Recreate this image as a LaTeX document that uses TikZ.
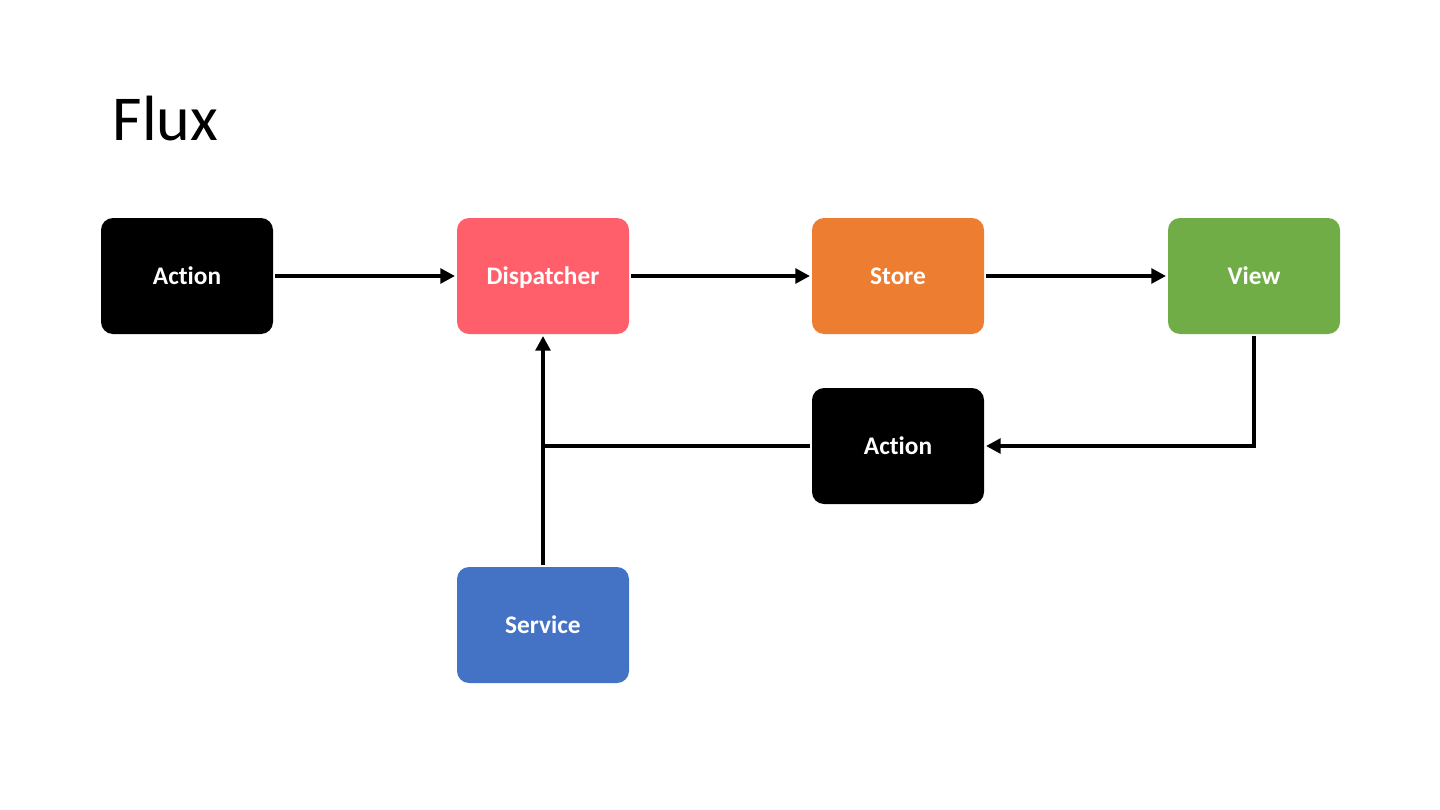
\documentclass[tikz,border=0pt]{standalone}
\usepackage{fontspec}
\setmainfont[Ligatures=NoCommon]{Carlito}
\usetikzlibrary{arrows.meta}

\definecolor{DispatcherRed}{HTML}{FF5F6B}
\definecolor{StoreOrange}{HTML}{ED7D31}
\definecolor{ViewGreen}{HTML}{70AD47}
\definecolor{ServiceBlue}{HTML}{4472C4}

\begin{document}
\begin{tikzpicture}[x=0.75pt,y=-0.75pt,
    Block/.style={rectangle,rounded corners=9pt,minimum width=129pt,
      minimum height=87pt,inner sep=0pt,outer sep=1.5pt,text=white,
      text height=13pt,text depth=1pt,
      font=\fontsize{19}{23}\selectfont\bfseries},
    Flow/.style={line width=3pt,-{Triangle[length=11pt,width=11pt]}},
    Wire/.style={line width=3pt}]

    \useasboundingbox (0,0) rectangle (1440,810);

    \node[anchor=base west,font=\fontsize{48}{56}\selectfont] (Title)
    at (108,140) {Flux};

    % top row
    \node[Block,fill=black] (ActionTop) at (187,276) {Action};
    \node[Block,fill=DispatcherRed] (Dispatcher) at (543,276) {Dispatcher};
    \node[Block,fill=StoreOrange] (Store) at (898,276) {Store};
    \node[Block,fill=ViewGreen] (View) at (1254,276) {View};

    % lower rows
    \node[Block,fill=black] (ActionBot) at (898,446) {Action};
    \node[Block,fill=ServiceBlue] (Service) at (543,625) {Service};

    \draw[Flow] (ActionTop) -- (Dispatcher);
    \draw[Flow] (Dispatcher) -- (Store);
    \draw[Flow] (Store) -- (View);
    \draw[Flow] (View.south) |- (ActionBot.east);
    \draw[Flow] (ActionBot.west) -| (Dispatcher.south);
    \draw[Wire] (Service.north) -- (Service.north |- ActionBot.west);

  \end{tikzpicture}
\end{document}
